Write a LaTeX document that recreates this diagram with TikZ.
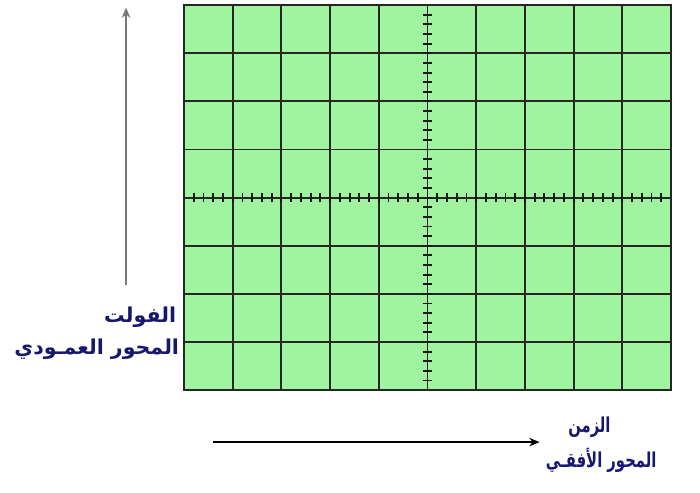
\documentclass[tikz,border=0pt]{standalone}
\usepackage{fontspec}
\newfontfamily\arabicfont[Script=Arabic]{DejaVu Sans}
\TeXXeTstate=1
\usetikzlibrary{arrows.meta}
\definecolor{screengreen}{RGB}{160,244,160}
\definecolor{labelblue}{RGB}{22,24,112}
\definecolor{axisgrey}{RGB}{120,120,120}
\begin{document}
\begin{tikzpicture}[x=1cm,y=0.988cm,>={Stealth[length=6pt,width=5pt]}]
    \tikzset{
        gridline/.style={draw=black!85,line width=1.1pt},
        tick/.style={draw=black!90,line width=1.1pt},
        axislabel/.style={font=\arabicfont\bfseries\large,text=labelblue,
            inner sep=1pt},
        narrowlabel/.style={axislabel,xscale=0.72,transform shape},
        axisarrow/.style={->,line width=0.9pt}
    }
    \useasboundingbox (-3.778,-2.12) rectangle (10.595,8.108);

    % screen
    \fill[screengreen] (0,0) rectangle (10,8);
    \foreach \x in {1,...,9}
        \draw[gridline] (\x,0) -- (\x,8);
    \foreach \y in {1,...,7}
        \draw[gridline] (0,\y) -- (10,\y);
    \draw[gridline] (0,0) rectangle (10,8);

    % graduations on the centre lines
    \foreach \i in {1,...,49}
        \draw[tick] (\i/5,3.91) -- (\i/5,4.09);
    \foreach \j in {1,...,39}
        \draw[tick] (4.9,\j/5) -- (5.1,\j/5);

    % vertical axis
    \coordinate (v-start) at (-1.19,2.18);
    \coordinate (v-end) at (-1.19,7.95);
    \draw[axisarrow,draw=axisgrey,-{Stealth[length=6pt,width=5pt,fill=black]}]
        (v-start) -- (v-end);
    \node[axislabel,anchor=east] (volt) at (-0.12,1.52)
        {\beginR الفولت\endR};
    \node[axislabel,anchor=east] (v-axis) at (-0.06,0.86)
        {\beginR المحور العمـودي\endR};

    % horizontal axis
    \coordinate (h-start) at (0.6,-1.08);
    \coordinate (h-end) at (7.3,-1.08);
    \draw[axisarrow] (h-start) -- (h-end);
    \node[narrowlabel,anchor=west] (time) at (7.86,-0.76)
        {\beginR الزمن\endR};
    \node[narrowlabel,anchor=west] (h-axis) at (7.4,-1.46)
        {\beginR المحور الأفقـي\endR};
\end{tikzpicture}
\end{document}
